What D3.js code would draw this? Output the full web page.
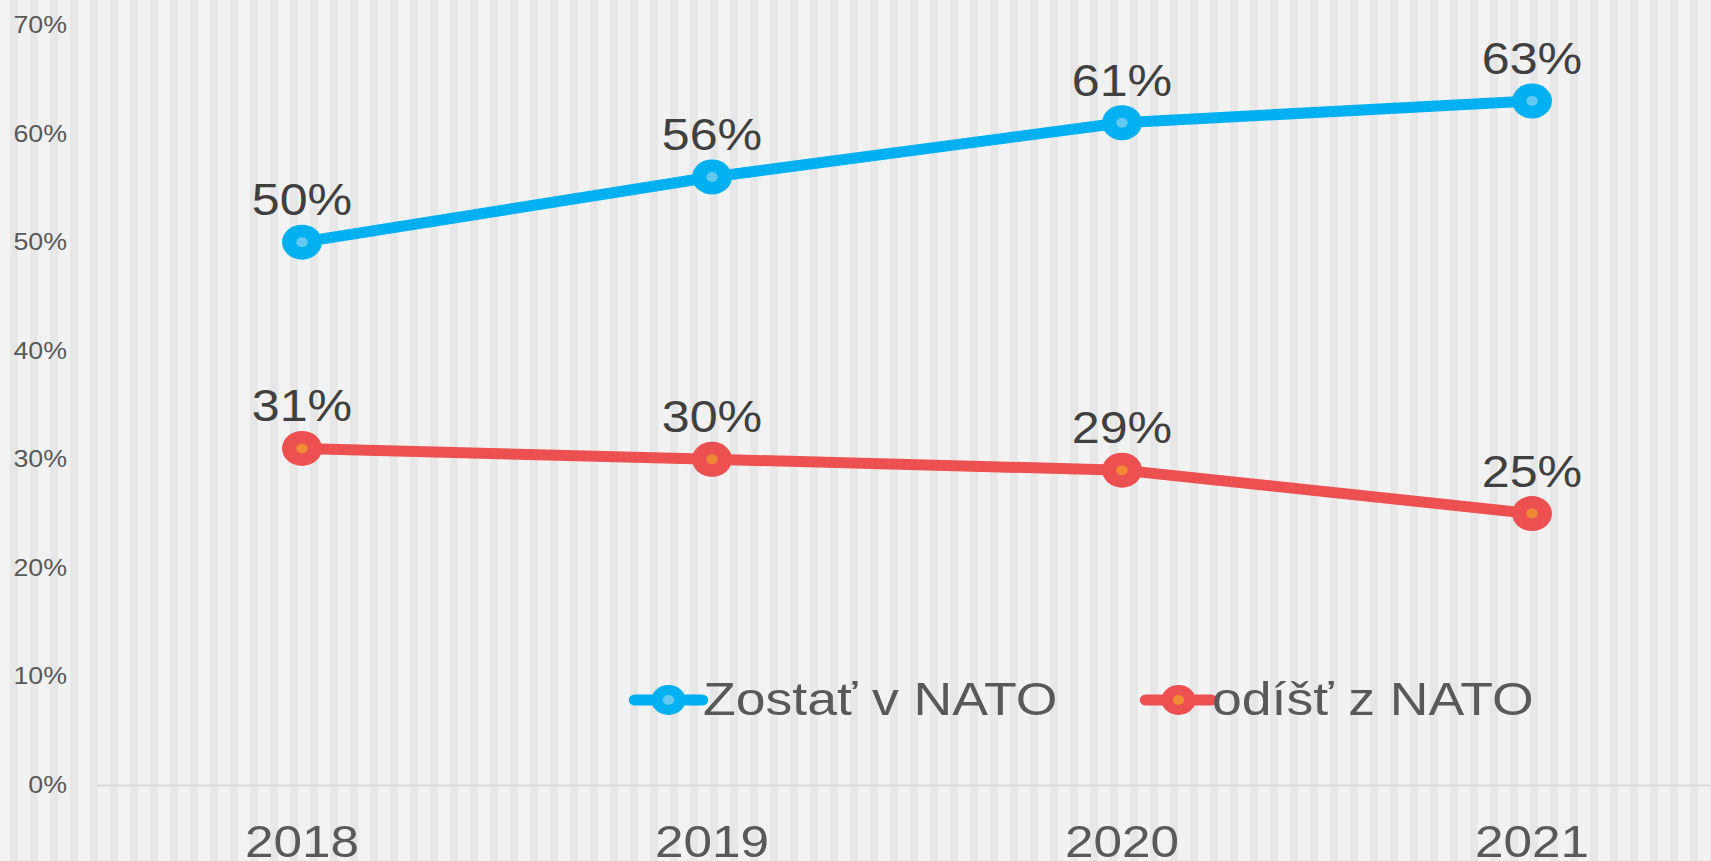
<!DOCTYPE html>
<html>
<head>
<meta charset="utf-8">
<script src="https://cdn.jsdelivr.net/npm/d3@7"></script>
<style>
  html, body { margin: 0; padding: 0; background: #f2f2f2; overflow: hidden; }
  svg { display: block; font-family: "Liberation Sans", Arial, sans-serif; }
</style>
</head>
<body>
<svg id="chart" width="1711" height="861"></svg>
<script>
// Data
const years = ["2018", "2019", "2020", "2021"]
const stay = [0.50, 0.56, 0.61, 0.63]
const leave = [0.31, 0.30, 0.29, 0.25]
const seriesNames = ["Zostať v NATO", "odíšť z NATO"]
const yTicks = [0, 0.1, 0.2, 0.3, 0.4, 0.5, 0.6, 0.7]

const width = 1711
const height = 861
// the original picture is stretched a bit horizontally
const S = 1.14

const svg = d3.select("#chart")

// Striped background
svg.append("rect")
  .attr("width", width)
  .attr("height", height)
  .attr("fill", "#f2f2f2")

svg.append("g")
  .selectAll("rect")
  .data(d3.range(10, width, 20))
  .enter()
  .append("rect")
  .attr("x", d => d)
  .attr("y", 0)
  .attr("width", 8)
  .attr("height", height)
  .attr("fill", "#e7e7e7")

const chart = svg.append("g")
  .attr("transform", `scale(${S},1)`)

// Scales
const x = d3.scaleBand()
  .domain(years)
  .range([97 / S, (97 + 4 * 410) / S])

const cx = d => x(d) + x.bandwidth() / 2

const y = d3.scaleLinear()
  .domain([0, 0.7])
  .range([785, 25])

// Y axis
chart.append("g")
  .attr("transform", `translate(${67 / S}, 0)`)
  .call(d3.axisLeft(y)
    .tickValues(yTicks)
    .tickFormat(d3.format(".0%"))
    .tickSize(0)
    .tickPadding(0))
  .call(g => g.select(".domain").remove())
  .selectAll("text")
  .style("font-family", "'Liberation Sans', Arial, sans-serif")
  .style("font-size", "23.5px")
  .style("fill", "#595959")

// X axis
chart.append("g")
  .attr("transform", `translate(0, ${y(0)})`)
  .call(d3.axisBottom(x).tickSize(0).tickSizeOuter(0))
  .call(g => g.select(".domain")
    .style("stroke", "#d9d9d9")
    .style("stroke-width", 2))
  .selectAll("text")
  .attr("y", 72)
  .attr("dy", 0)
  .style("font-family", "'Liberation Sans', Arial, sans-serif")
  .style("font-size", "45px")
  .style("fill", "#595959")

// Series
const series = [
  { name: seriesNames[0], values: stay, color: "#00b0f0", inner: "#62c9f0" },
  { name: seriesNames[1], values: leave, color: "#ec5050", inner: "#f08a35" }
]

const line = d3.line()
  .x((d, i) => cx(years[i]))
  .y(d => y(d))

series.forEach(s => {
  chart.append("path")
    .datum(s.values)
    .attr("fill", "none")
    .attr("stroke", s.color)
    .attr("stroke-width", 11)
    .attr("stroke-linejoin", "round")
    .attr("d", line)

  const pts = chart.append("g")
    .selectAll("g")
    .data(s.values)
    .enter()
    .append("g")
    .attr("transform", (d, i) => `translate(${cx(years[i])}, ${y(d)})`)

  pts.append("circle")
    .attr("r", 17.5)
    .attr("fill", s.color)

  pts.append("circle")
    .attr("r", 5)
    .attr("fill", s.inner)

  pts.append("text")
    .attr("y", -27)
    .attr("text-anchor", "middle")
    .style("font-size", "44px")
    .style("fill", "#404040")
    .text(d => d3.format(".0%")(d))
})

// Legend
const legendItems = [
  { x0: 635, x1: 702, tx: 703 },
  { x0: 1146, x1: 1211, tx: 1212 }
]

series.forEach((s, i) => {
  const li = legendItems[i]
  const g = chart.append("g")
  g.append("line")
    .attr("x1", li.x0 / S)
    .attr("x2", li.x1 / S)
    .attr("y1", 700)
    .attr("y2", 700)
    .attr("stroke", s.color)
    .attr("stroke-width", 11)
    .attr("stroke-linecap", "round")
  g.append("circle")
    .attr("cx", (li.x0 + li.x1) / 2 / S)
    .attr("cy", 700)
    .attr("r", 15)
    .attr("fill", s.color)
  g.append("circle")
    .attr("cx", (li.x0 + li.x1) / 2 / S)
    .attr("cy", 700)
    .attr("r", 5)
    .attr("fill", s.inner)
  g.append("text")
    .attr("x", li.tx / S)
    .attr("y", 715)
    .style("font-size", "47px")
    .style("fill", "#595959")
    .text(s.name)
})
</script>
</body>
</html>
